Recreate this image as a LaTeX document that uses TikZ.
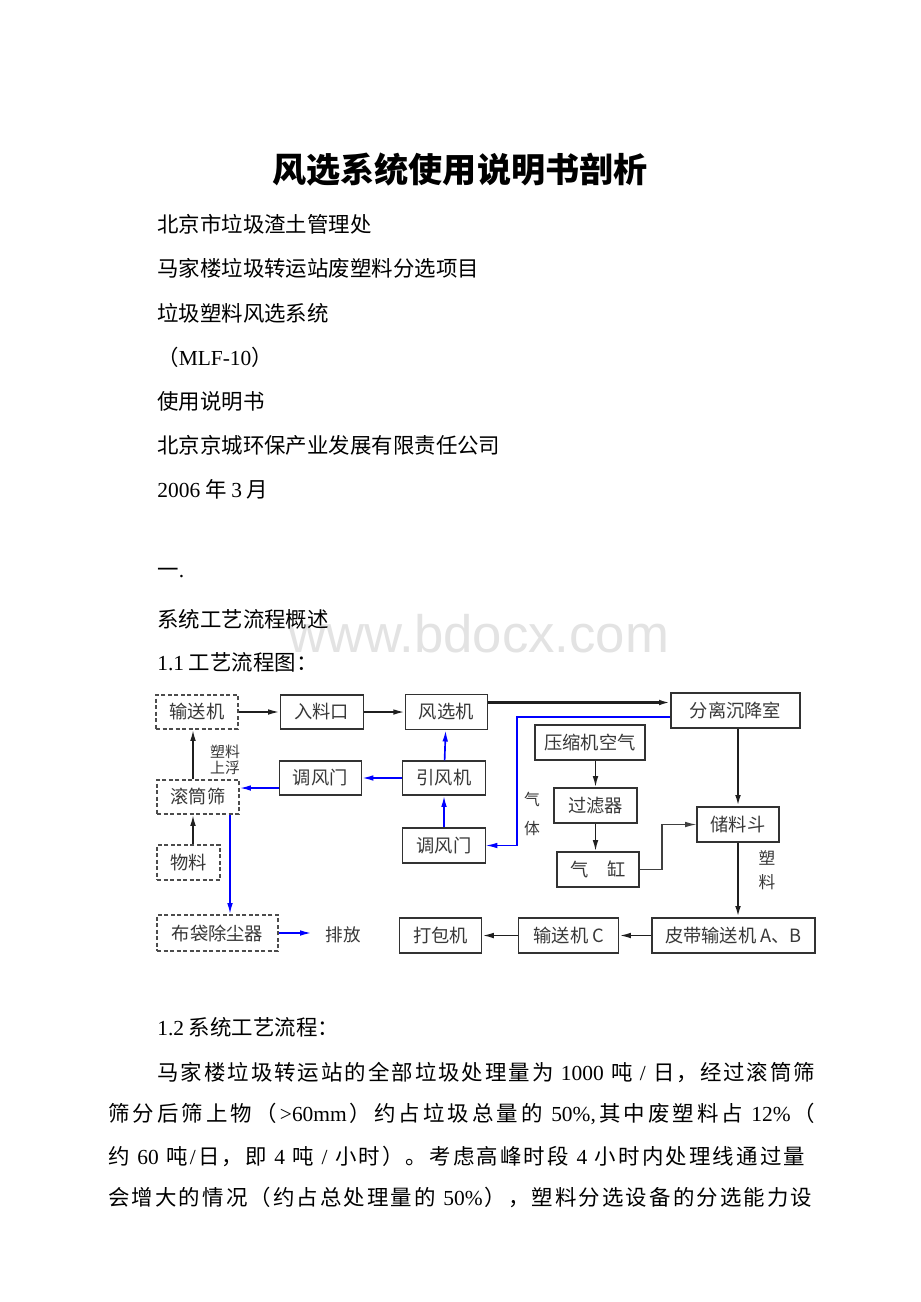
\documentclass[tikz,border=0pt]{standalone}
\usepackage{fontspec}
\setmainfont{Noto Sans CJK SC}
\newfontfamily\tms{Liberation Serif}
\newfontfamily\arial{Liberation Sans}
\usetikzlibrary{positioning,arrows.meta}

% justified line: glue between every character
\newcommand\spreadline[2]{\hbox to #1{\spreadfirst#2\relax}}
\def\spreadfirst#1{{#1}\spreadnext}
\def\spreadnext#1{\ifx\relax#1\relax\else\hfil{#1}\expandafter\spreadnext\fi}

\definecolor{airblue}{RGB}{0,0,255}
\definecolor{edgegray}{RGB}{50,50,50}

\tikzset{
  box/.style={draw=edgegray, line width=0.65pt, minimum height=0.68cm, inner sep=0pt,
    font=\fontsize{10.4}{12}\selectfont, text=black!78},
  dbox/.style={box, draw=black!70, dash pattern=on 2.3pt off 1.4pt},
  flow/.style={-{Latex[length=6.5pt,width=3.2pt]}, line width=0.95pt, black!88},
  heavy/.style={flow, line width=1.2pt},
  air/.style={flow, airblue},
  body/.style={anchor=west, inner sep=0pt, font=\fontsize{12.2}{14}\selectfont},
  note/.style={inner sep=0pt, align=center, text=black!78},
}

\begin{document}
\begin{tikzpicture}[x=0.02cm, y=-0.02cm]
\fill[white] (0,0) rectangle (920,1302);
\useasboundingbox (0,0) rectangle (920,1302);

% watermark
\node[anchor=base west, inner sep=0pt, text=black!11, font=\arial\fontsize{30}{33}\selectfont] (mark) at (288,652) {www.bdocx.com};

% heading lines
\node[inner sep=0pt, font=\fontsize{19.4}{22}\selectfont\bfseries] (title) at (460,170) {风选系统使用说明书剖析};
\node[body] (owner) at (157,224) {北京市垃圾渣土管理处};
\node[body] (project) at (157,268) {马家楼垃圾转运站废塑料分选项目};
\node[body] (system) at (157,313) {垃圾塑料风选系统};
\node[body] (model) at (157,357) {（{\tms MLF-10}）};
\node[body] (manual) at (157,401) {使用说明书};
\node[body] (maker) at (157,445) {北京京城环保产业发展有限责任公司};
\node[body] (date) at (157,489) {{\tms 2006} 年 {\tms 3} 月};
\node[body] (part) at (157,573) {一{\tms .}};
\node[body] (overview) at (157,619) {系统工艺流程概述};
\node[body] (sec11) at (157,662) {{\tms 1.1} 工艺流程图：};

% flow chart
\node[dbox, minimum width=1.64cm] (feeder) at (197,712) {输送机};
\node[box, minimum width=1.66cm, right=0.82cm of feeder] (inlet) {入料口};
\node[box, minimum width=1.64cm, minimum height=0.7cm, right=0.82cm of inlet] (separator) {风选机};
\node[box, minimum width=2.58cm, minimum height=0.7cm] (settler) at (735.5,710.5) {分离沉降室};
\node[box, minimum width=1.66cm] (fan) at (444,778) {引风机};
\node[box, minimum width=1.64cm, left=0.8cm of fan] (damperA) {调风门};
\node[box, minimum width=2.2cm, minimum height=0.7cm] (compressor) at (590,742.5) {压缩机空气};
\node[dbox, minimum width=1.64cm] (drum) at (198,797) {滚筒筛};
\node[box, minimum width=1.66cm, minimum height=0.7cm] (filter) at (595.5,805.5) {过滤器};
\node[box, minimum width=1.64cm, minimum height=0.7cm] (hopper) at (738,824.5) {储料斗};
\node[box, minimum width=1.66cm, minimum height=0.7cm] (damperB) at (444,845.5) {调风门};
\node[dbox, minimum width=1.26cm, minimum height=0.7cm] (material) at (188.5,862.5) {物料};
\node[box, minimum width=1.64cm, minimum height=0.7cm] (cylinder) at (598,869.5) {气\hspace{1em}缸};
\node[dbox, minimum width=2.42cm, minimum height=0.72cm] (dust) at (217.5,933) {布袋除尘器};
\node[box, minimum width=3.26cm, minimum height=0.7cm] (belt) at (733.5,935.5) {皮带输送机 A、B};
\node[box, minimum width=2cm, minimum height=0.7cm, left=0.64cm of belt] (conveyorC) {输送机 C};
\node[box, minimum width=1.64cm, minimum height=0.7cm, left=0.72cm of conveyorC] (baler) {打包机};
\node[note, inner xsep=8pt, font=\fontsize{10}{12}\selectfont] (exhaust) at (343.5,935) {排放};

\node[note, align=right, font=\fontsize{8.5}{9.2}\selectfont] (floatlbl) at (225,760) {塑料\\上浮};
\node[note, font=\fontsize{9}{16}\selectfont] (gaslbl) at (532,814) {气\\体};
\node[note, font=\fontsize{9.5}{14}\selectfont] (plasticlbl) at (767,870) {塑\\料};

\coordinate (liftx) at (193,0);
\coordinate (dropx) at (230,0);
\coordinate (gasbend) at (517,845.5);
\coordinate (cylbend) at (662,0);

% material path
\draw[flow] (feeder) -- (inlet);
\draw[flow] (inlet) -- (separator);
\draw[heavy] ([yshift=0.19cm]separator.east) -- ([yshift=0.19cm]separator.east -| settler.west);
\draw[flow] (drum.north -| liftx) -- (feeder.south -| liftx);
\draw[flow] (material.north -| liftx) -- (drum.south -| liftx);
\draw[heavy] (hopper.north |- settler.south) -- (hopper.north);
\draw[heavy] (hopper.south) -- (hopper.south |- belt.north);
\draw[flow] (belt.west) -- (belt.west -| conveyorC.east);
\draw[flow] (conveyorC.west) -- (conveyorC.west -| baler.east);

% compressed air
\draw[flow] (filter.north |- compressor.south) -- (filter.north);
\draw[flow] (filter.south) -- (filter.south |- cylinder.north);
\draw[flow, line width=0.65pt, black!75] (cylinder.east) -- (cylinder.east -| cylbend) -- (cylbend |- hopper.west) -- (hopper.west);

% air path
\draw[air] (fan) -- (damperA);
\draw[air] ([yshift=-0.2cm]damperA.west) -- ([yshift=-0.2cm]damperA.west -| drum.east);
\draw[air] (fan) -- (separator);
\draw[air] (damperB) -- (fan);
\draw[air, line width=0.6pt] ([yshift=-0.13cm]settler.west) -| (gasbend) -- (damperB.east);
\draw[air] (drum.south -| dropx) -- (dust.north -| dropx);
\draw[air] (dust.east) -- (dust.east -| exhaust.west);

% text below the chart
\node[body] (sec12) at (157,1027) {{\tms 1.2} 系统工艺流程：};
\node[body] (para1) at (157,1073) {\spreadline{13.16cm}{马家楼垃圾转运站的全部垃圾处理量为{\tms\ 1000\ }吨{\tms\ /\ }日，经过滚筒筛}};
\node[body] (para2) at (108,1114) {\spreadline{14.14cm}{筛分后筛上物（{\tms >60mm}）约占垃圾总量的{\tms\ 50\%,}其中废塑料占{\tms\ 12\%}（}};
\node[body] (para3) at (108,1156) {\spreadline{13.94cm}{约{\tms\ 60\ }吨{\tms /}日，即{\tms\ 4\ }吨{\tms\ /\ }小时）。考虑高峰时段{\tms\ 4\ }小时内处理线通过量}};
\node[body] (para4) at (108,1197) {\spreadline{14.08cm}{会增大的情况（约占总处理量的{\tms\ 50\%}），塑料分选设备的分选能力设}};
\end{tikzpicture}
\end{document}
